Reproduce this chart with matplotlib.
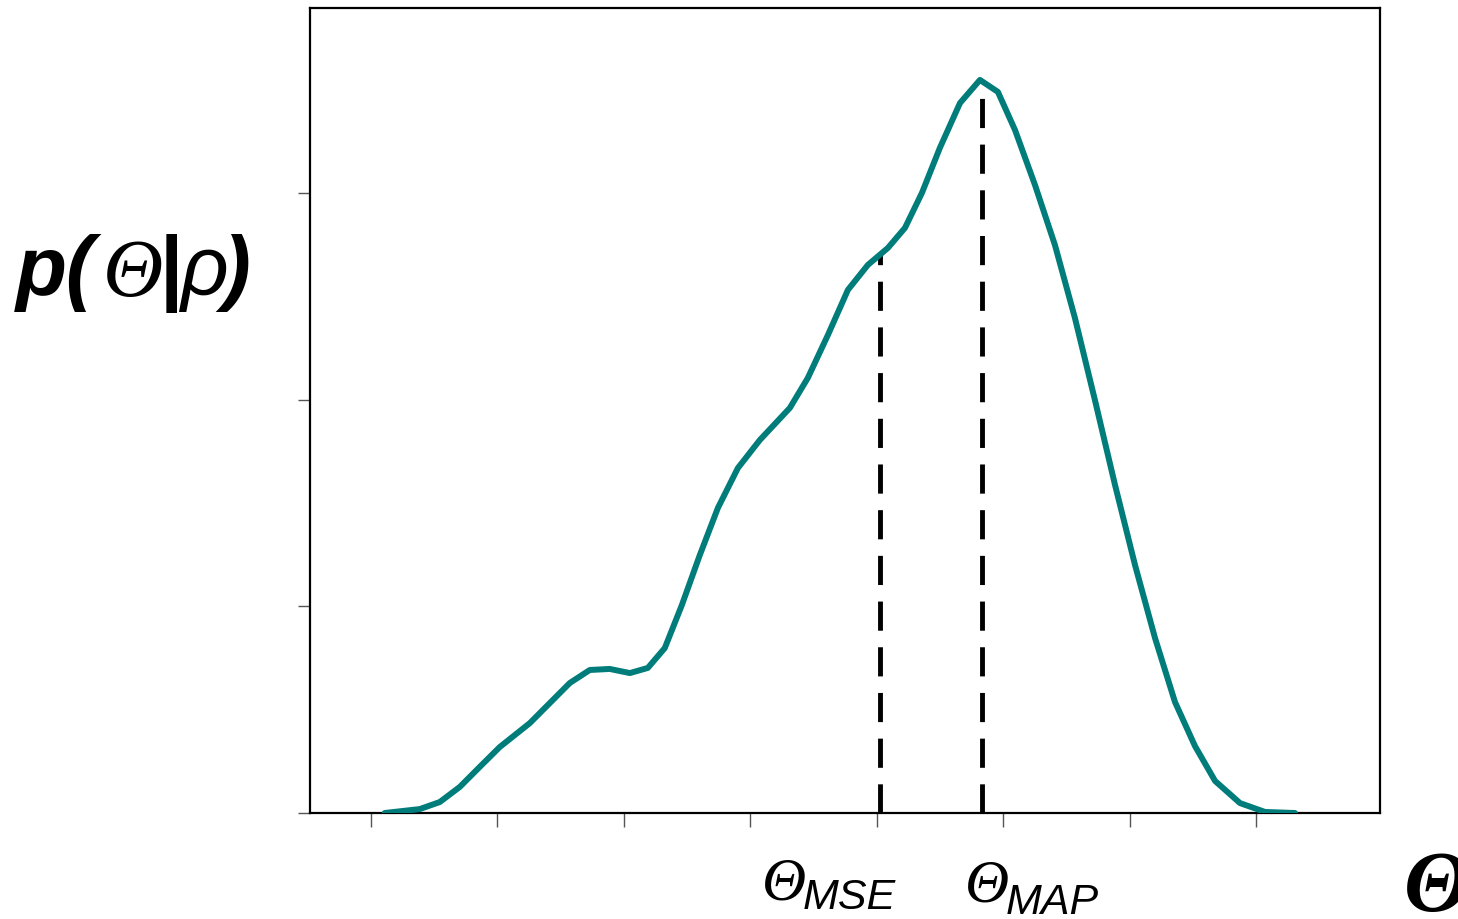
import numpy as np
import matplotlib
matplotlib.use("Agg")
import matplotlib.pyplot as plt

# posterior density (arbitrary units)
theta = [0.111, 0.388, 0.546, 0.704, 0.862, 1.020, 1.258, 1.416, 1.574, 1.732,
         1.890, 2.049, 2.191, 2.325, 2.460, 2.602, 2.745, 2.903, 3.077, 3.314,
         3.456, 3.615, 3.773, 3.931, 4.089, 4.224, 4.358, 4.500, 4.659, 4.817,
         4.959, 5.094, 5.252, 5.410, 5.568, 5.726, 5.885, 6.043, 6.201, 6.359,
         6.517, 6.676, 6.873, 7.071, 7.308]
density = [0.000, 0.019, 0.053, 0.126, 0.223, 0.319, 0.435, 0.532, 0.629, 0.692,
           0.697, 0.677, 0.702, 0.798, 1.006, 1.248, 1.476, 1.669, 1.805, 1.960,
           2.105, 2.313, 2.531, 2.652, 2.734, 2.831, 3.000, 3.218, 3.435, 3.547,
           3.489, 3.305, 3.039, 2.748, 2.395, 1.998, 1.587, 1.200, 0.847, 0.537,
           0.324, 0.155, 0.048, 0.005, 0.000]

theta_mse = 4.026
theta_map = 4.833

W, H = 1458, 919
SERIF = 'Liberation Serif'
SANS = 'Liberation Sans'

fig = plt.figure(figsize=(W / 100, H / 100), dpi=100)
ax = fig.add_axes([310 / W, 1 - 813 / H, 1070 / W, 805 / H])

ax.plot(theta, density, color='#007d7a', lw=4.3, solid_capstyle='round',
        solid_joinstyle='round', zorder=3)

# dashed markers from the axis up to the curve
for t in (theta_mse, theta_map):
    top = np.interp(t, theta, density)
    ax.plot([t, t], [0, top], color='black', lw=3.5, linestyle=(0, (6, 3.4)), zorder=2)

ax.set_xlim(-0.48, 7.98)
ax.set_ylim(0, 3.895)
ax.set_xticks(range(8))
ax.set_yticks([0, 1, 2, 3])
ax.set_xticklabels([])
ax.set_yticklabels([])
ax.tick_params(axis='x', length=10, width=1, color='#555555', direction='out')
ax.tick_params(axis='y', length=9, width=1, color='#555555', direction='out')
for s in ax.spines.values():
    s.set_linewidth(1.6)
    s.set_color('black')


def put(px, py, s, family, size, weight='normal', style='italic'):
    # place a text piece by its left edge / baseline in pixel coordinates
    fig.text(px / W, 1 - py / H, s, family=family, fontsize=size,
             fontweight=weight, fontstyle=style, ha='left', va='baseline')


# y label p(Θ|ρ)
put(16, 295, 'p(', SANS, 60, 'bold')
put(103, 296, 'Θ', SERIF, 60)
put(160, 295, '|', SANS, 60, 'bold', 'normal')
put(180, 295, 'ρ', SANS, 60)
put(222, 295, ')', SANS, 60, 'bold')

# estimator labels under the axis
put(762, 899, 'Θ', SERIF, 44)
put(803, 909, 'MSE', SANS, 31)
put(965, 902, 'Θ', SERIF, 44)
put(1006, 914, 'MAP', SANS, 31)

# axis symbol, partly cut by the right edge
put(1404, 911, 'Θ', SERIF, 62, 'bold')

fig.savefig('out.png', dpi=100)
